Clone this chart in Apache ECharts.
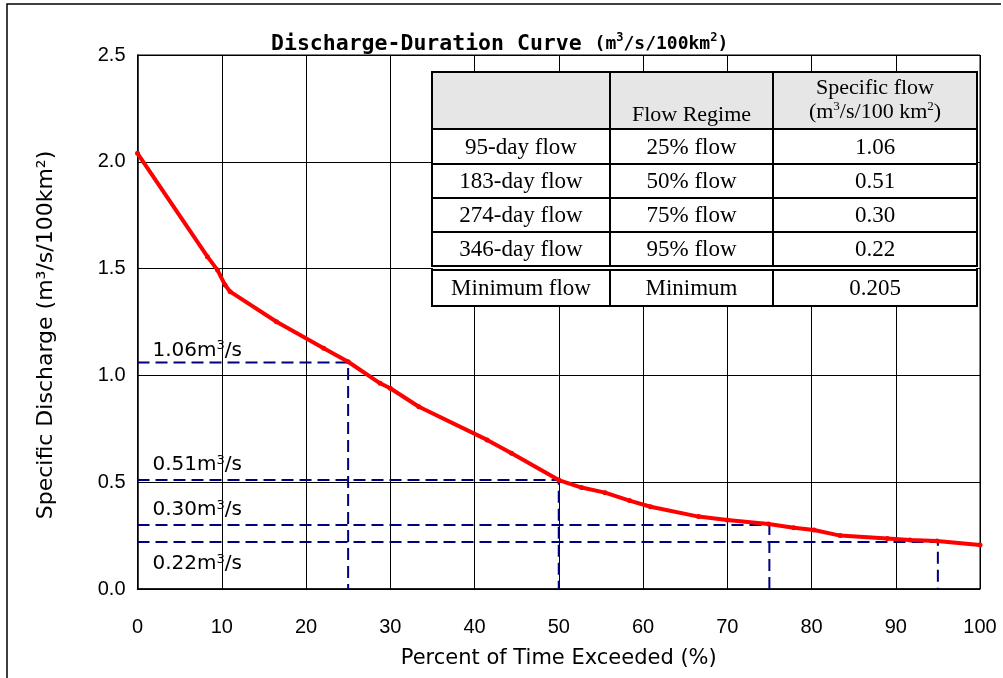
<!DOCTYPE html>
<html>
<head>
<meta charset="utf-8">
<script src="https://cdn.jsdelivr.net/npm/echarts@6/dist/echarts.min.js"></script>
<style>html,body{margin:0;padding:0;background:#fff}#c{width:1003px;height:678px}</style>
</head>
<body>
<div id="c"></div>
<script>
// ---- data ----
var percentExceeded = [0, 8.3, 9.5, 10.4, 11.0, 16.5, 22.1, 25.0, 28.8, 30.0, 33.4, 41.5, 44.4, 50.0, 52.7, 55.5, 58.4, 60.9, 66.6, 70.0, 74.9, 77.9, 80.3, 83.4, 89.0, 91.7, 94.9, 100];
var specificDischarge = [2.04, 1.556, 1.493, 1.423, 1.392, 1.251, 1.127, 1.064, 0.963, 0.94, 0.853, 0.698, 0.635, 0.51, 0.475, 0.451, 0.414, 0.385, 0.339, 0.323, 0.304, 0.287, 0.276, 0.250, 0.236, 0.229, 0.225, 0.206];
var refPercent = [25, 50, 75, 95];
var refFlow = [1.06, 0.51, 0.30, 0.22];
var refLabels = ['1.06', '0.51', '0.30', '0.22'];
var tableHeader = ['', 'Flow Regime', 'Specific flow'];
var tableDays = ['95-day flow', '183-day flow', '274-day flow', '346-day flow', 'Minimum flow'];
var tableRegime = ['25% flow', '50% flow', '75% flow', '95% flow', 'Minimum'];
var tableFlow = ['1.06', '0.51', '0.30', '0.22', '0.205'];
var xTicks = [0, 10, 20, 30, 40, 50, 60, 70, 80, 90, 100];
var yTicks = [0, 0.5, 1.0, 1.5, 2.0, 2.5];

var chart = echarts.init(document.getElementById('c'), null, {renderer: 'canvas'});
var SANS = 'DejaVu Sans, sans-serif';
var TICK = 'Liberation Sans, Arial, sans-serif';
var SERIF = 'Liberation Serif, Times New Roman, serif';

var curveData = percentExceeded.map(function (p, i) { return [p, specificDischarge[i]]; });

var series = [];
refPercent.forEach(function (p, i) {
  var y = refFlow[i];
  series.push({
    type: 'line',
    data: [[0, y], [p, y], [p, 0]],
    symbol: 'none',
    silent: true,
    z: 3,
    lineStyle: {color: '#000080', width: 2, type: [12, 6]}
  });
});
// reference labels
series.push({
  type: 'scatter',
  symbolSize: 0,
  itemStyle: {color: '#000'},
  silent: true,
  z: 4,
  data: refFlow.map(function (y, i) {
    var below = (i === refFlow.length - 1);
    return {
      value: [0, y],
      label: {
        show: true, position: 'right', color: '#000', opacity: 1,
        offset: below ? [10, 22] : [10, i === 0 ? -12 : -15],
        formatter: '{n|' + refLabels[i] + 'm}{s|3}{n|/s}',
        rich: {
          n: {fontFamily: SANS, fontSize: 20, color: '#000', lineHeight: 22},
          s: {fontFamily: SANS, fontSize: 13, color: '#000', verticalAlign: 'top', lineHeight: 22}
        }
      }
    };
  })
});
series.push({
  type: 'line',
  data: curveData,
  symbol: 'circle',
  symbolSize: 5,
  itemStyle: {color: '#ff0000'},
  lineStyle: {color: '#ff0000', width: 4},
  z: 5
});

// table graphic
var TX = 432, TR = 977, C1 = 610, C2 = 773;
var rowTops = [129, 164, 198, 232, 270];
var rowBots = [164, 198, 232, 266, 306];
var g = [];
var Z = 100;
g.push({type: 'rect', z: Z, shape: {x: TX, y: 72, width: TR - TX, height: 57}, style: {fill: '#e6e6e6', stroke: '#000', lineWidth: 2}});
g.push({type: 'rect', z: Z, shape: {x: TX, y: 129, width: TR - TX, height: 137}, style: {fill: '#fff', stroke: '#000', lineWidth: 2}});
g.push({type: 'rect', z: Z, shape: {x: TX, y: 270, width: TR - TX, height: 36}, style: {fill: '#fff', stroke: '#000', lineWidth: 2}});
g.push({type: 'rect', z: Z, shape: {x: TX + 1, y: 267, width: TR - TX - 2, height: 2}, style: {fill: '#fff', lineWidth: 0}});
[164, 198, 232].forEach(function (yy) {
  g.push({type: 'line', z: Z + 1, shape: {x1: TX, y1: yy, x2: TR, y2: yy}, style: {stroke: '#000', lineWidth: 2}});
});
[C1, C2].forEach(function (xx) {
  g.push({type: 'line', z: Z + 1, shape: {x1: xx, y1: 72, x2: xx, y2: 266}, style: {stroke: '#000', lineWidth: 2}});
  g.push({type: 'line', z: Z + 1, shape: {x1: xx, y1: 270, x2: xx, y2: 306}, style: {stroke: '#000', lineWidth: 2}});
});
var colCenters = [(TX + C1) / 2, (C1 + C2) / 2, (C2 + TR) / 2];
var hdrStyle = {fontSize: 22, fontFamily: SERIF, fill: '#000', align: 'center', verticalAlign: 'middle'};
g.push({type: 'text', z: Z + 2, x: colCenters[1], y: 115, style: Object.assign({text: tableHeader[1]}, hdrStyle)});
g.push({type: 'text', z: Z + 2, x: colCenters[2], y: 88, style: Object.assign({text: tableHeader[2]}, hdrStyle)});
g.push({type: 'text', z: Z + 2, x: colCenters[2], y: 112, style: {
  text: '{n|(m}{s|3}{n|/s/100 km}{s|2}{n|)}', align: 'center', verticalAlign: 'middle',
  rich: {
    n: {fontSize: 22, fontFamily: SERIF, fill: '#000', lineHeight: 24},
    s: {fontSize: 13, fontFamily: SERIF, fill: '#000', verticalAlign: 'top', lineHeight: 24}
  }
}});
tableDays.forEach(function (d, i) {
  var cy = (rowTops[i] + rowBots[i]) / 2 + 1;
  [d, tableRegime[i], tableFlow[i]].forEach(function (t, j) {
    g.push({type: 'text', z: Z + 2, x: colCenters[j], y: cy, style: {text: t, fontSize: 23, fontFamily: SERIF, fill: '#000', align: 'center', verticalAlign: 'middle'}});
  });
});
g.push({type: 'polyline', z: Z, shape: {points: [[7, 678], [7, 4], [1001, 4]]}, style: {stroke: '#000', fill: null, lineWidth: 1.5}});

var option = {
  backgroundColor: '#fff',
  animation: false,
  title: {
    text: '{a|Discharge-Duration Curve }{b|(m}{s|3}{b|/s/100km}{s|2}{b|)}',
    left: 266, top: 27,
    textStyle: {rich: {
      a: {fontFamily: 'DejaVu Sans Mono', fontWeight: 'bold', fontSize: 21.5, color: '#000', lineHeight: 24},
      b: {fontFamily: 'DejaVu Sans Mono', fontWeight: 'bold', fontSize: 18, color: '#000', lineHeight: 24},
      s: {fontFamily: 'DejaVu Sans Mono', fontWeight: 'bold', fontSize: 12, color: '#000', verticalAlign: 'top', lineHeight: 24}
    }}
  },
  grid: {left: 137.5, right: 23, top: 55, bottom: 89, show: true, borderColor: '#000', borderWidth: 1},
  xAxis: {
    type: 'value', min: 0, max: 100, interval: 10,
    name: 'Percent of Time Exceeded (%)', nameLocation: 'middle', nameGap: 59,
    nameTextStyle: {fontSize: 21, fontFamily: SANS, color: '#000'},
    axisLine: {show: true, lineStyle: {color: '#000', width: 1.5}},
    axisTick: {show: false},
    axisLabel: {margin: 28, fontSize: 20, fontFamily: TICK, color: '#000',
      formatter: function (v) { return xTicks.indexOf(v) >= 0 ? String(v) : ''; }},
    splitLine: {show: true, lineStyle: {color: '#000', width: 1}}
  },
  yAxis: {
    type: 'value', min: 0, max: 2.5, interval: 0.5,
    name: 'Specific Discharge (m³/s/100km²)', nameLocation: 'middle', nameGap: 80,
    nameTextStyle: {fontSize: 22, fontFamily: SANS, color: '#000', padding: [0, 26, 0, 0]},
    axisLine: {show: true, lineStyle: {color: '#000', width: 1.5}},
    axisTick: {show: false},
    axisLabel: {margin: 12, fontSize: 20, fontFamily: TICK, color: '#000',
      formatter: function (v) { return yTicks.indexOf(v) >= 0 ? v.toFixed(1) : ''; }},
    splitLine: {show: true, lineStyle: {color: '#000', width: 1}}
  },
  graphic: g,
  series: series
};
chart.setOption(option);
</script>
</body>
</html>
